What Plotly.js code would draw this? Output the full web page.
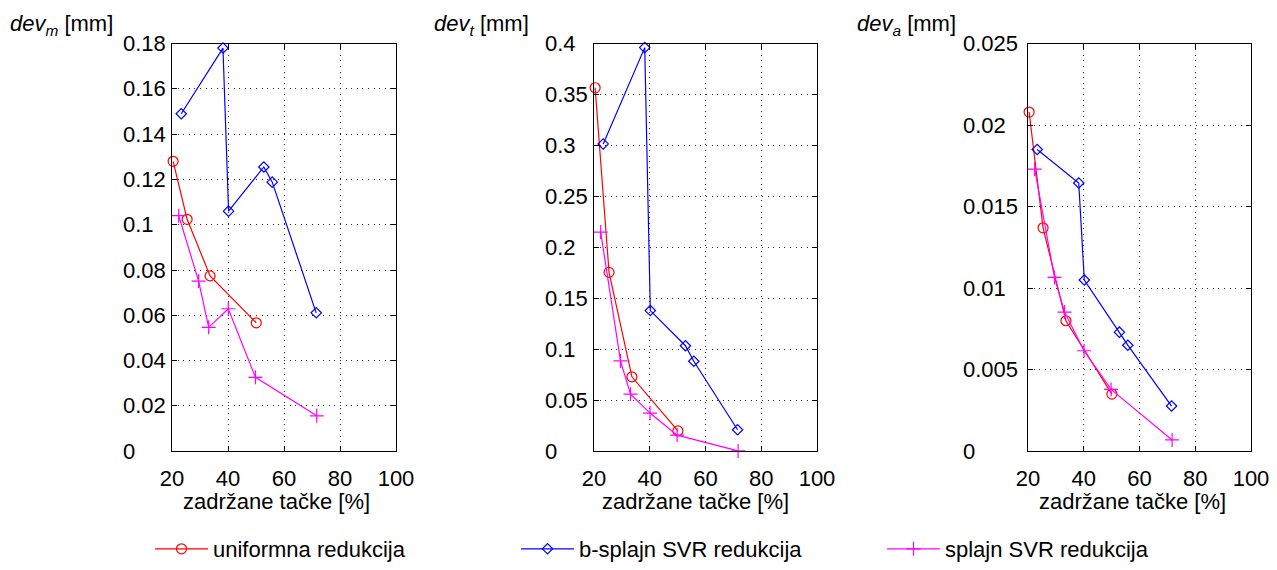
<!DOCTYPE html>
<html>
<head>
<meta charset="utf-8">
<script src="https://cdn.plot.ly/plotly-3.0.1.min.js"></script>
<style>
  html, body { margin: 0; padding: 0; background: #fff; }
  #chart { width: 1277px; height: 570px; }
</style>
</head>
<body>
<div id="chart"></div>
<script>
// Retained points [%] for each reduction method
const uniformKept = [20.4, 25.4, 33.6, 50.1];
const bsplineKept = [23.3, 38.2, 40.2, 52.8, 55.8, 71.5];
const splineKept  = [22.4, 29.5, 33.1, 40.1, 49.8, 71.7];

// Mean deviation dev_m [mm]
const uniformDevM = [0.128, 0.1024, 0.0774, 0.0567];
const bsplineDevM = [0.149, 0.178, 0.106, 0.1255, 0.1188, 0.0611];
const splineDevM  = [0.104, 0.0751, 0.0547, 0.0629, 0.0326, 0.0156];

// Deviation dev_t [mm]
const uniformDevT = [0.3566, 0.1755, 0.073, 0.0199];
const bsplineDevT = [0.3015, 0.396, 0.138, 0.1035, 0.0883, 0.021];
const splineDevT  = [0.215, 0.0886, 0.056, 0.0374, 0.0158, 0.0003];

// Deviation dev_a [mm]
const uniformDevA = [0.0208, 0.0137, 0.0080, 0.0035];
const bsplineDevA = [0.0185, 0.01645, 0.0105, 0.0073, 0.0065, 0.00277];
const splineDevA  = [0.0173, 0.01066, 0.00853, 0.00616, 0.00379, 0.00069];

// Series names
const seriesNames = ['uniformna redukcija', 'b-splajn SVR redukcija', 'splajn SVR redukcija'];

// Tick values / labels
const keptTicks = [20, 40, 60, 80, 100];
const devMTicks = ['0', '0.02', '0.04', '0.06', '0.08', '0.1', '0.12', '0.14', '0.16', '0.18'];
const devTTicks = ['0', '0.05', '0.1', '0.15', '0.2', '0.25', '0.3', '0.35', '0.4'];
const devATicks = ['0', '0.005', '0.01', '0.015', '0.02', '0.025'];

// Axis titles
const xTitle = 'zadržane tačke [%]';
const yTitles = ['<i>dev<sub>m</sub></i> [mm]', '<i>dev<sub>t</sub></i> [mm]', '<i>dev<sub>a</sub></i> [mm]'];

const W = 1277, H = 570;
const FONT = 'Liberation Sans, Arial, Helvetica, sans-serif';
const FS = 22;
const colors = ['#ff0000', '#0000ff', '#ff00ff'];
const symbols = ['circle-open', 'diamond-open', 'cross-thin-open'];
const markerSizes = [10, 8, 10];

// Panel geometry (pixels)
const panels = [
  { x0: 172, x1: 396, labelX: 121, titleX: 8,   xTitleC: 276 },
  { x0: 594, x1: 817, labelX: 543, titleX: 432, xTitleC: 695 },
  { x0: 1028, x1: 1251, labelX: 961, titleX: 855, xTitleC: 1132 }
];
const yTop = 44, yBottom = 456;
const yDomain = [1 - yBottom / H, 1 - yTop / H];

const panelData = [
  { ys: [uniformDevM, bsplineDevM, splineDevM], ticks: devMTicks },
  { ys: [uniformDevT, bsplineDevT, splineDevT], ticks: devTTicks },
  { ys: [uniformDevA, bsplineDevA, splineDevA], ticks: devATicks }
];
const keptSets = [uniformKept, bsplineKept, splineKept];

const traces = [];
panelData.forEach((p, pi) => {
  const sfx = pi === 0 ? '' : String(pi + 1);
  p.ys.forEach((yv, si) => {
    traces.push({
      type: 'scatter', mode: 'lines+markers',
      x: keptSets[si], y: yv,
      xaxis: 'x' + sfx, yaxis: 'y' + sfx,
      name: seriesNames[si],
      legendgroup: seriesNames[si],
      showlegend: pi === 0,
      line: { color: colors[si], width: 1.2 },
      marker: { symbol: symbols[si], size: markerSizes[si], color: colors[si], line: { color: colors[si], width: 1.2 } },
      cliponaxis: false,
      hoverinfo: 'x+y'
    });
  });
});

const gridCommon = {
  ticks: 'inside', ticklen: 5, tickwidth: 1, tickcolor: '#000',
  showline: true, linecolor: '#000', linewidth: 1, mirror: 'ticks',
  showgrid: true, gridcolor: 'rgba(0,0,0,0.85)', gridwidth: 1, griddash: '1px,4.6px',
  zeroline: false, fixedrange: true
};

const layout = {
  width: W, height: H,
  margin: { l: 0, r: 0, t: 0, b: 0 },
  paper_bgcolor: '#fff', plot_bgcolor: '#fff',
  font: { family: FONT, size: FS, color: '#000' },
  showlegend: true,
  legend: {
    orientation: 'h', x: 150 / W, xanchor: 'left', y: 1 - 555 / H, yanchor: 'middle',
    itemwidth: 53,
    entrywidth: 298, entrywidthmode: 'pixels',
    font: { family: FONT, size: FS, color: '#000' },
    bgcolor: 'rgba(0,0,0,0)', borderwidth: 0, itemclick: false, itemdoubleclick: false
  },
  annotations: [],
  hovermode: 'closest'
};

panels.forEach((pn, pi) => {
  const sfx = pi === 0 ? '' : String(pi + 1);
  const ticks = panelData[pi].ticks.map(Number);
  layout['xaxis' + sfx] = Object.assign({}, gridCommon, {
    domain: [pn.x0 / W, pn.x1 / W], anchor: 'y' + sfx,
    range: [20, 100], tickmode: 'array', tickvals: keptTicks,
    ticktext: keptTicks.map(String),
    tickfont: { family: FONT, size: FS, color: '#000' },
    ticklabelstandoff: 7
  });
  layout['yaxis' + sfx] = Object.assign({}, gridCommon, {
    domain: yDomain, anchor: 'x' + sfx,
    range: [0, ticks[ticks.length - 1]], tickmode: 'array', tickvals: ticks,
    showticklabels: false
  });
  // left-aligned y tick labels
  panelData[pi].ticks.forEach(t => {
    layout.annotations.push({
      xref: 'paper', x: pn.labelX / W, xanchor: 'left',
      yref: 'y' + sfx, y: Number(t), yanchor: 'middle',
      text: t, showarrow: false,
      font: { family: FONT, size: FS, color: '#000' }
    });
  });
  // y title above the panel
  layout.annotations.push({
    xref: 'paper', x: pn.titleX / W, xanchor: 'left',
    yref: 'paper', y: 1 - 25 / H, yanchor: 'middle',
    text: yTitles[pi], showarrow: false,
    font: { family: FONT, size: FS, color: '#000' }
  });
  // x title under the panel
  layout.annotations.push({
    xref: 'paper', x: pn.xTitleC / W, xanchor: 'center',
    yref: 'paper', y: 1 - 507 / H, yanchor: 'middle',
    text: xTitle, showarrow: false,
    font: { family: FONT, size: FS, color: '#000' }
  });
});

Plotly.newPlot('chart', traces, layout, { displayModeBar: false, responsive: false });
</script>
</body>
</html>
